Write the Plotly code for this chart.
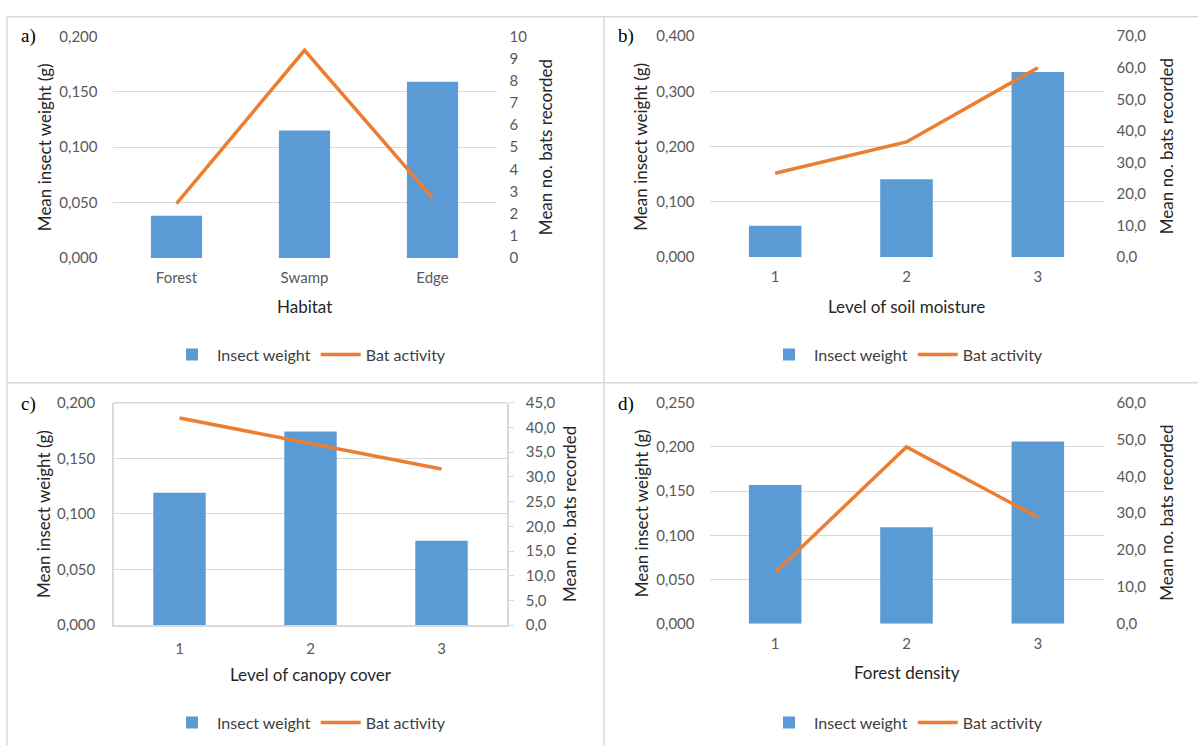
import plotly.graph_objects as go

# ---------------- data ----------------
habitat_cats = ["Forest", "Swamp", "Edge"]
habitat_insect = [0.038, 0.115, 0.159]
habitat_bats = [2.45, 9.37, 2.71]

moisture_cats = ["1", "2", "3"]
moisture_insect = [0.057, 0.141, 0.335]
moisture_bats = [26.6, 36.5, 60.0]

canopy_cats = ["1", "2", "3"]
canopy_insect = [0.119, 0.174, 0.076]
canopy_bats = [41.9, 36.8, 31.6]

density_cats = ["1", "2", "3"]
density_insect = [0.157, 0.109, 0.206]
density_bats = [13.9, 48.0, 28.9]

panel_labels = ["a)", "b)", "c)", "d)"]
x_titles = ["Habitat", "Level of soil moisture", "Level of canopy cover", "Forest density"]
left_title = "Mean insect weight (g)"
right_title = "Mean no. bats recorded"
series_names = ["Insect weight", "Bat activity"]

left_ranges = [(0, 0.2, 0.05), (0, 0.4, 0.1), (0, 0.2, 0.05), (0, 0.25, 0.05)]
right_ranges = [(0, 10, 1, "d"), (0, 70, 10, ".1f"), (0, 45, 5, ".1f"), (0, 60, 10, ".1f")]

# ---------------- style ----------------
W, H = 1198, 753
BAR_C = "#5b9bd5"
LINE_C = "#ed7d31"
GRID_C = "#d9d9d9"
TICK_C = "#595959"
TITLE_C = "#262626"
FONT = "Lato"

def px_x(p):
    return p / W

def px_y(p):
    return 1 - p / H

boxes = [(112.5, 496.5, 27, 254),
         (709.5, 1103.5, 26.7, 253.3),
         (114, 507, 402.3, 630.3),
         (709.5, 1103.5, 402.3, 628.7)]

cats = [habitat_cats, moisture_cats, canopy_cats, density_cats]
insect = [habitat_insect, moisture_insect, canopy_insect, density_insect]
bats = [habitat_bats, moisture_bats, canopy_bats, density_bats]

fig = go.Figure()
layout = dict(
    width=W, height=H, autosize=False,
    margin=dict(l=0, r=0, t=0, b=0),
    paper_bgcolor="white", plot_bgcolor="white",
    separators=",.",
    font=dict(family=FONT, color=TICK_C, size=15),
)
annotations = []
shapes = []

for i in range(4):
    n = i + 1
    xa = "x" if n == 1 else f"x{n}"
    ya = "y" if n == 1 else f"y{n}"
    yr = f"y{n + 4}"
    leg = "legend" if n == 1 else f"legend{n}"
    l, r, t, b = boxes[i]
    boxed = (i == 2)

    fig.add_trace(go.Bar(
        x=cats[i], y=insect[i], name=series_names[0], xaxis=xa, yaxis=ya,
        marker=dict(color=BAR_C, line=dict(width=0)), width=0.4,
        legend=leg, showlegend=True,
    ))
    fig.add_trace(go.Scatter(
        x=cats[i], y=bats[i], name=series_names[1], xaxis=xa, yaxis=yr,
        mode="lines", line=dict(color=LINE_C, width=3.5),
        legend=leg, showlegend=True,
    ))

    lo, hi, dt = left_ranges[i]
    rlo, rhi, rdt, rfmt = right_ranges[i]
    xkey = "xaxis" if n == 1 else f"xaxis{n}"
    ykey = "yaxis" if n == 1 else f"yaxis{n}"
    yrkey = f"yaxis{n + 4}"

    layout[xkey] = dict(
        domain=[px_x(l), px_x(r)], anchor=ya, type="category",
        range=[-0.5, 2.5], showgrid=False, zeroline=False,
        showline=boxed, linecolor=GRID_C, linewidth=1.5,
        ticks="", ticklabelstandoff=9,
        tickfont=dict(family=FONT, size=15, color=TICK_C),
        fixedrange=True,
    )
    layout[ykey] = dict(
        domain=[px_y(b), px_y(t)], anchor=xa, range=[lo, hi],
        tick0=0, dtick=dt, tickformat=".3f",
        showgrid=True, gridcolor=GRID_C, gridwidth=1.3,
        zeroline=False, showline=boxed, linecolor=GRID_C, linewidth=1.5,
        mirror=False, ticks="", ticklabelstandoff=14,
        tickfont=dict(family=FONT, size=15, color=TICK_C),
        fixedrange=True,
    )
    layout[yrkey] = dict(
        overlaying=ya, anchor=xa, side="right", range=[rlo, rhi],
        tick0=0, dtick=rdt, tickformat=rfmt, showgrid=False, zeroline=False,
        showline=boxed, linecolor=GRID_C, linewidth=1.5,
        ticks="outside" if boxed else "", ticklen=5, tickcolor=GRID_C,
        ticklabelstandoff=9 if boxed else 12,
        tickfont=dict(family=FONT, size=15, color=TICK_C),
        fixedrange=True,
    )
    if boxed:
        shapes.append(dict(type="line", xref="paper", yref="paper",
                           x0=px_x(l), x1=px_x(r), y0=px_y(t), y1=px_y(t),
                           line=dict(color=GRID_C, width=1.5)))

    cx = (l + r) / 2
    cy = (t + b) / 2
    left_x = 44 if i % 2 == 0 else 641
    right_x = r + 48.5 if i == 0 else r + 63
    annotations.append(dict(text=left_title, x=px_x(left_x), y=px_y(cy), xref="paper", yref="paper",
                            textangle=-90, showarrow=False, xanchor="center", yanchor="middle",
                            font=dict(family=FONT, size=17, color=TITLE_C)))
    annotations.append(dict(text=right_title, x=px_x(right_x), y=px_y(cy), xref="paper", yref="paper",
                            textangle=-90, showarrow=False, xanchor="center", yanchor="middle",
                            font=dict(family=FONT, size=17, color=TITLE_C)))
    xt_y = b + 50
    annotations.append(dict(text=x_titles[i], x=px_x(cx), y=px_y(xt_y), xref="paper", yref="paper",
                            showarrow=False, xanchor="center", yanchor="middle",
                            font=dict(family=FONT, size=17, color=TITLE_C)))
    lab_x = 28 if i % 2 == 0 else 626
    lab_y = 27 if i < 2 else 404
    annotations.append(dict(text=panel_labels[i], x=px_x(lab_x), y=px_y(lab_y), xref="paper", yref="paper",
                            showarrow=False, xanchor="center", yanchor="middle",
                            font=dict(family="Liberation Serif", size=19, color="#000000")))
    leg_y = 353 if i < 2 else 730
    leg_x = 309 if i % 2 == 0 else 906
    layout[leg] = dict(orientation="h", x=px_x(leg_x), y=px_y(leg_y), xanchor="center", yanchor="middle",
                       xref="paper", yref="paper", bgcolor="rgba(0,0,0,0)",
                       font=dict(family=FONT, size=16, color="#404040"),
                       itemwidth=40, traceorder="normal")

frame = [
    (7, 7, W, 7),
    (7, 7, 7, H),
    (604, 7, 604, H),
    (7, 382, W, 382),
]
for x0, y0, x1, y1 in frame:
    shapes.append(dict(type="line", xref="paper", yref="paper",
                       x0=px_x(x0), x1=px_x(x1), y0=px_y(y0), y1=px_y(y1),
                       line=dict(color=GRID_C, width=1.5)))

layout["annotations"] = annotations
layout["shapes"] = shapes
fig.update_layout(**layout)
post = (
    "var d=document.getElementById('{plot_id}');"
    "d.style.position='fixed';d.style.top='0px';d.style.left='0px';"
    "document.body.style.margin='0px';document.body.style.overflow='hidden';"
    "document.documentElement.style.overflow='hidden';"
)
fig.write_html("out.html", config={"displayModeBar": False}, post_script=post)
